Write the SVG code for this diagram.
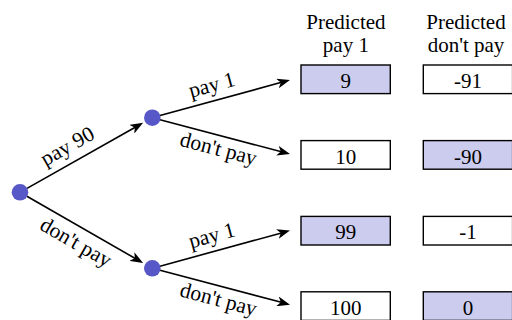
<svg xmlns="http://www.w3.org/2000/svg" width="512" height="320" viewBox="0 0 512 320">
<defs>
<marker id="arr" viewBox="0 0 13 10" refX="7" refY="5" markerWidth="13" markerHeight="10" markerUnits="userSpaceOnUse" orient="auto">
<path d="M13,5 L0,0 L3.5,5 L0,10 Z" fill="#000"/>
</marker>
<style>
.t{font-family:"Liberation Serif","Times New Roman",serif;fill:#000}
.lbl{font-size:21.5px;text-anchor:middle}
.hd{font-size:21px;text-anchor:middle}
.num{font-size:21px;text-anchor:middle}
.edge{stroke:#000;stroke-width:1.6;fill:none;marker-end:url(#arr)}
.dot{fill:#5757c8}
.box{stroke:#000;stroke-width:1.4}
.on{fill:#ccccee}
.off{fill:#fff}
</style>
</defs>
<rect width="512" height="320" fill="#fff"/>
<g id="connectors">
<line class="edge" x1="27.0" y1="188.4" x2="137.9" y2="125.8"/>
<line class="edge" x1="26.9" y1="196.3" x2="137.9" y2="260.0"/>
<line class="edge" x1="160.0" y1="115.6" x2="284.2" y2="81.6"/>
<line class="edge" x1="160.0" y1="119.7" x2="284.2" y2="152.5"/>
<line class="edge" x1="160.0" y1="266.2" x2="284.2" y2="232.2"/>
<line class="edge" x1="160.0" y1="270.3" x2="284.2" y2="303.1"/>
<text class="t lbl" transform="translate(75.7,160.9) rotate(-29.4)" y="-10">pay 90</text>
<text class="t lbl" transform="translate(83.7,228.9) rotate(29.9)" y="22.5">don't pay</text>
<text class="t lbl" transform="translate(216.1,100.3) rotate(-15.3)" y="-9">pay 1</text>
<text class="t lbl" transform="translate(221.9,136.1) rotate(14.8)" y="20">don't pay</text>
<text class="t lbl" transform="translate(216.1,250.9) rotate(-15.3)" y="-9">pay 1</text>
<text class="t lbl" transform="translate(221.9,286.7) rotate(14.8)" y="20">don't pay</text>
</g>
<g id="root"><circle class="dot" cx="20" cy="192.3" r="8.3"/></g>
<g id="node-pay90"><circle class="dot" cx="152.3" cy="117.7" r="8.3"/></g>
<g id="node-dontpay"><circle class="dot" cx="152.3" cy="268.3" r="8.3"/></g>
<g id="header-pay1">
<text class="t hd" x="345.9" y="28.5">Predicted</text>
<text class="t hd" x="345.9" y="52">pay 1</text>
</g>
<g id="header-dontpay">
<text class="t hd" x="466" y="28.5">Predicted</text>
<text class="t hd" x="466" y="52">don't pay</text>
</g>
<g id="box-9"><rect class="box on" x="301" y="65" width="89.3" height="28.6"/><text class="t num" x="345.7" y="88">9</text></g>
<g id="box-m91"><rect class="box off" x="423.3" y="65" width="89.3" height="28.6"/><text class="t num" x="467.9" y="88">-91</text></g>
<g id="box-10"><rect class="box off" x="301" y="140.6" width="89.3" height="28.6"/><text class="t num" x="345.7" y="163.6">10</text></g>
<g id="box-m90"><rect class="box on" x="423.3" y="140.6" width="89.3" height="28.6"/><text class="t num" x="467.9" y="163.6">-90</text></g>
<g id="box-99"><rect class="box on" x="301" y="216.4" width="89.3" height="28.6"/><text class="t num" x="345.7" y="239.4">99</text></g>
<g id="box-m1"><rect class="box off" x="423.3" y="216.4" width="89.3" height="28.6"/><text class="t num" x="467.9" y="239.4">-1</text></g>
<g id="box-100"><rect class="box off" x="301" y="291.8" width="89.3" height="28.6"/><text class="t num" x="345.7" y="314.8">100</text></g>
<g id="box-0"><rect class="box on" x="423.3" y="291.8" width="89.3" height="28.6"/><text class="t num" x="467.9" y="314.8">0</text></g>
</svg>
